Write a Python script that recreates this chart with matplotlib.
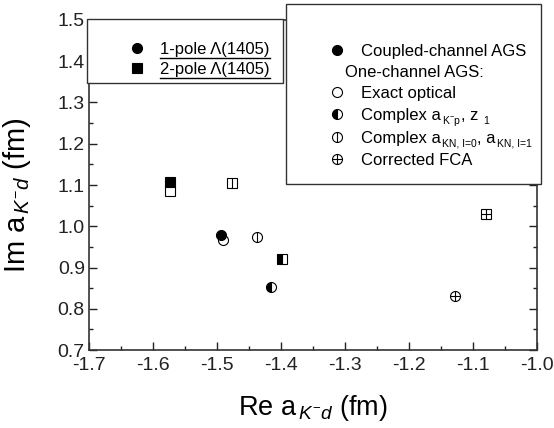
import matplotlib
matplotlib.use('Agg')
import matplotlib.pyplot as plt
from matplotlib.ticker import MultipleLocator, FormatStrFormatter
from matplotlib.patches import Rectangle

plt.rcParams['font.family'] = ['Liberation Sans', 'DejaVu Sans']
plt.rcParams['mathtext.fontset'] = 'custom'
plt.rcParams['mathtext.rm'] = 'Liberation Sans'
plt.rcParams['mathtext.it'] = 'Liberation Sans:italic'
plt.rcParams['mathtext.bf'] = 'Liberation Sans:bold'
plt.rcParams['axes.unicode_minus'] = False

# data: (Re, Im) of a_K-d in fm
methods = ['Coupled-channel AGS', 'Exact optical', 'Complex a_K-p, z_1',
           'Complex a_KN,I=0, a_KN,I=1', 'Corrected FCA']
styles = ['full', 'open', 'half', 'vline', 'cross']
re_1pole = [-1.494, -1.491, -1.415, -1.438, -1.128]
im_1pole = [0.978, 0.966, 0.853, 0.973, 0.832]
re_2pole = [-1.573, -1.573, -1.399, -1.476, -1.079]
im_2pole = [1.108, 1.085, 0.920, 1.106, 1.029]

MS = 7.2


def draw_marker(ax, x, y, shape, style, **kw):
    # one symbol: filled / open / half filled / open with line / open with cross
    if style == 'full':
        ax.plot(x, y, shape, ms=MS, mfc='black', mec='black', mew=0.8, **kw)
    elif style == 'half':
        ax.plot(x, y, shape, ms=MS, mfc='black', mfcalt='white', fillstyle='left',
                mec='black', mew=0.8, **kw)
    else:
        ax.plot(x, y, shape, ms=MS, mfc='white', mec='black', mew=0.8, **kw)
        if style == 'vline':
            ax.plot(x, y, '|', ms=MS, mec='black', mew=0.8, **kw)
        elif style == 'cross':
            ax.plot(x, y, '+', ms=MS, mec='black', mew=0.8, **kw)


fig = plt.figure(figsize=(5.54, 4.28), dpi=100)
ax = fig.add_axes([0.1606, 0.1822, 0.8087, 0.7711])

# draw open symbols first so the filled ones sit on top
order = [1, 2, 3, 4, 0]
for i in order:
    draw_marker(ax, re_1pole[i], im_1pole[i], 'o', styles[i])
    draw_marker(ax, re_2pole[i], im_2pole[i], 's', styles[i])

ax.set_xlim(-1.7, -1.0)
ax.set_ylim(0.7, 1.5)
ax.xaxis.set_major_locator(MultipleLocator(0.1))
ax.xaxis.set_minor_locator(MultipleLocator(0.05))
ax.yaxis.set_major_locator(MultipleLocator(0.1))
ax.yaxis.set_minor_locator(MultipleLocator(0.05))
ax.xaxis.set_major_formatter(FormatStrFormatter('%.1f'))
ax.yaxis.set_major_formatter(FormatStrFormatter('%.1f'))
ax.tick_params(which='both', direction='in', top=True, right=True, width=1.0,
               labelsize=14, colors='#222222')
ax.tick_params(which='major', length=6)
ax.tick_params(which='minor', length=3)
ax.tick_params(axis='x', which='major', pad=5)
ax.tick_params(axis='y', which='major', pad=3)
for s in ax.spines.values():
    s.set_linewidth(1.2)
    s.set_color('#333333')

ax.set_xlabel(r'Re a$_{\,\mathit{K^{-}d}}$ (fm)', fontsize=19.5)
ax.set_ylabel(r'Im a$_{\,\mathit{K^{-}d}}$ (fm)', fontsize=21)
ax.xaxis.set_label_coords(0.5, -0.13)
ax.yaxis.set_label_coords(-0.125, 0.47)

# legend boxes (figure pixel coords converted to fractions)
W, H = 554.0, 428.0


def fx(px):
    return px / W


def fy(py):
    return 1 - py / H


fig.add_artist(Rectangle((fx(87), fy(83)), fx(283) - fx(87), fy(19) - fy(83),
                         transform=fig.transFigure, fc='white', ec='#333333',
                         lw=1.0, zorder=5))
fig.add_artist(Rectangle((fx(286), fy(184)), fx(541) - fx(286), fy(4) - fy(184),
                         transform=fig.transFigure, fc='white', ec='#333333',
                         lw=1.0, zorder=5))

# legend symbols drawn in an overlay axes spanning the figure (pixel units)
lax = fig.add_axes([0, 0, 1, 1], zorder=10)
lax.set_xlim(0, W)
lax.set_ylim(H, 0)
lax.axis('off')
fig.canvas.draw()
rend = fig.canvas.get_renderer()


def rich_text(x, y, pieces):
    # pieces: (text, fontsize, shift down in px); placed one after another
    for s, size, dy in pieces:
        t = lax.text(x, y + dy, s, fontsize=size, va='baseline', ha='left')
        x = t.get_window_extent(rend).x1
    return x


pole_labels = [u'1-pole \u039b(1405)', u'2-pole \u039b(1405)']
pole_shapes = ['o', 's']
pole_y = [48, 68]
for lab, shp, yy in zip(pole_labels, pole_shapes, pole_y):
    draw_marker(lax, 137, yy, shp, 'full')
    t = lax.text(160, yy + 6, lab, fontsize=12, va='baseline', ha='left')
    bb = t.get_window_extent(rend)
    lax.plot([bb.x0, bb.x1], [H - bb.y0 + 0.5] * 2, color='black', lw=1.0)

SUB = 7.5
right_pieces = [
    [('Coupled-channel AGS', 12, 0)],
    [('Exact optical', 12, 0)],
    [('Complex a', 12, 0), (' ', 4, 0), (r'$\mathrm{K^{-}p}$', SUB, 4),
     (', z ', 12, 0), ('1', SUB, 4)],
    [('Complex a', 12, 0), (' ', 4, 0), ('KN, I=0', SUB, 4), (', a', 12, 0),
     (' ', 4, 0), ('KN, I=1', SUB, 4)],
    [('Corrected FCA', 12, 0)],
]
right_y = [50, 92, 114, 137, 159]
for pcs, st, yy in zip(right_pieces, styles, right_y):
    draw_marker(lax, 337, yy, 'o', st)
    rich_text(361, yy + 6, pcs)
lax.text(345, 71 + 6, 'One-channel AGS:', fontsize=12, va='baseline', ha='left')

fig.savefig('out.png', dpi=100)
